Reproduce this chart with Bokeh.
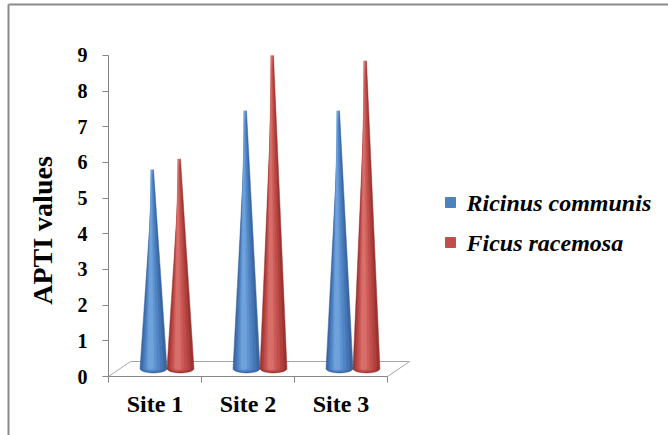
import numpy as np
from bokeh.plotting import figure
from bokeh.models import Range1d, FixedTicker, Label
from bokeh.embed import file_html
from bokeh.resources import INLINE

# ---- data ----
sites = ["Site 1", "Site 2", "Site 3"]
ricinus = [5.8, 7.45, 7.45]
ficus = [6.1, 9.0, 8.85]
series_names = ["Ricinus communis", "Ficus racemosa"]
series_colors = ["#4F81BD", "#C0504D"]
y_ticks = [0, 1, 2, 3, 4, 5, 6, 7, 8, 9]

# ---- geometry ----
PX_X = 93.0
PX_Y = 35.67
X0, Y0 = 108, 376             # page position of data origin
DX, DY = 0.237, 0.42
OFFS = [0.484, 0.774]
HW = 0.145
YB = 0.22
HH = 0.12

W, H = 668, 435
def dx(px): return (px - X0) / PX_X
def dy(py): return (Y0 - py) / PX_Y

p = figure(width=W, height=H, output_backend="svg", toolbar_location=None,
           x_range=Range1d(dx(0), dx(W)), y_range=Range1d(dy(H), dy(0)),
           min_border_left=0, min_border_right=0, min_border_top=0,
           min_border_bottom=0)
p.xgrid.visible = False
p.ygrid.visible = False
p.outline_line_color = None
p.background_fill_color = "white"
p.border_fill_color = "white"

# chart border (top and left visible)
p.line([dx(8), dx(W)], [dy(4), dy(4)], line_color="#8a8a8a", line_width=2)
p.line([dx(8), dx(8)], [dy(4), dy(H)], line_color="#8a8a8a", line_width=2)

n = len(sites)
p.patch([0, n, n + DX, DX], [0, 0, DY, DY], fill_color="white",
        line_color="#a6a6a6", line_width=1)

blues = ["#3A66A0", "#4575B4", "#5084C4", "#5E93D0", "#6FA2DC"]
reds = ["#9B3431", "#B0413E", "#C04E4B", "#CC5C58", "#D86E6A"]
fracs = [1.0, 0.8, 0.6, 0.4, 0.22]
th = np.linspace(0, -np.pi, 25)

for s, (vals, cols) in enumerate([(ricinus, blues), (ficus, reds)]):
    for f, c in zip(fracs, cols):
        xs, ys = [], []
        for i, v in enumerate(vals):
            xc = i + OFFS[s] - (1 - f) * HW * 0.25
            w = HW * f
            px = [xc - w, xc, xc + w] + list(xc + w * np.cos(th))
            py = [YB, v, YB] + list(YB + HH * f * np.sin(th))
            xs.append(px)
            ys.append(py)
        p.patches(xs, ys, fill_color=c, line_color=c if f < 1 else cols[0],
                  line_width=0.5)

yax = p.yaxis[0]
yax.fixed_location = 0
yax.ticker = FixedTicker(ticks=y_ticks)
yax.bounds = (0, 9)
yax.axis_line_color = "#868686"
yax.major_tick_line_color = "#868686"
yax.major_tick_out = 6
yax.major_tick_in = 0
yax.minor_tick_line_color = None
yax.major_label_text_font = "Liberation Serif"
yax.major_label_text_font_style = "bold"
yax.major_label_text_font_size = "20px"
yax.major_label_text_color = "black"
yax.major_label_standoff = 15

xax = p.xaxis[0]
xax.fixed_location = 0
xax.ticker = FixedTicker(ticks=[i + 0.5 for i in range(n)],
                         minor_ticks=list(range(n + 1)))
xax.major_label_overrides = {i + 0.5: s for i, s in enumerate(sites)}
xax.bounds = (0, n)
xax.axis_line_color = "#868686"
xax.major_tick_line_color = None
xax.minor_tick_line_color = "#868686"
xax.minor_tick_out = 6
xax.minor_tick_in = 0
xax.major_label_text_font = "Liberation Serif"
xax.major_label_text_font_style = "bold"
xax.major_label_text_font_size = "24px"
xax.major_label_text_color = "black"
xax.major_label_standoff = 8

p.add_layout(Label(x=dx(42), y=dy(230), text="APTI values",
                   angle=np.pi / 2, text_align="center", text_baseline="middle",
                   text_font="Liberation Serif", text_font_style="bold",
                   text_font_size="28px", text_color="black"))

# legend (drawn manually)
leg_y = [202, 242]
p.scatter([dx(450)] * 2, [dy(v) for v in leg_y], marker="square", size=10,
          fill_color=series_colors, line_color=series_colors)
for nm, yy in zip(series_names, leg_y):
    p.add_layout(Label(x=dx(466), y=dy(yy), text=nm, text_align="left",
                       text_baseline="middle", text_font="Liberation Serif",
                       text_font_style="bold italic", text_font_size="24px",
                       text_color="black"))

open("out.html", "w").write(file_html(p, INLINE))
